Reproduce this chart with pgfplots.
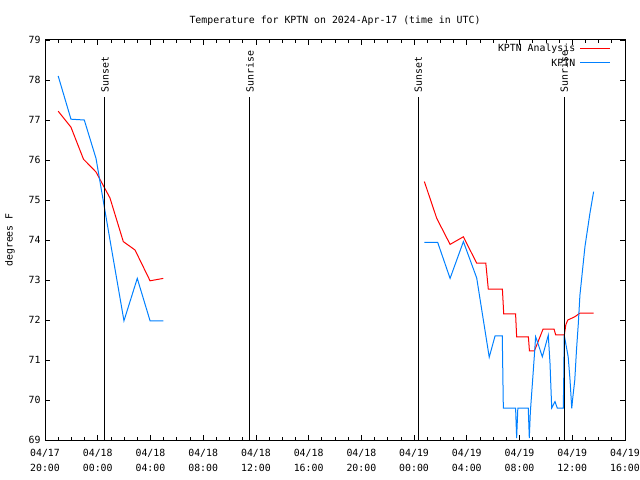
\documentclass[border=0pt]{standalone}
\usepackage{pgfplots}
\pgfplotsset{compat=1.18}
\usepackage{fontspec}
\setmainfont{DejaVu Sans Mono}
\definecolor{gred}{RGB}{255,0,0}
\definecolor{gblue}{RGB}{0,128,255}

\begin{document}
\begin{tikzpicture}[font=\fontsize{9.9}{12}\selectfont]
\path[use as bounding box] (-45bp,-40bp) rectangle (595bp,440bp);
\begin{axis}[
 at={(0,0)}, anchor=south west,
 scale only axis, width=580bp, height=400bp,
 xmin=0, xmax=44, ymin=69, ymax=79,
 xtick={0,4,...,44},
 xticklabels={{04/17\\20:00},{04/18\\00:00},{04/18\\04:00},{04/18\\08:00},{04/18\\12:00},{04/18\\16:00},{04/18\\20:00},{04/19\\00:00},{04/19\\04:00},{04/19\\08:00},{04/19\\12:00},{04/19\\16:00}},
 xticklabel style={align=center, yshift=-6bp, font=\fontsize{9.9}{15}\selectfont},
 minor x tick num=3,
 ytick={69,70,...,79},
 yticklabel style={xshift=-1bp},
 tick align=inside,
 major tick length=5bp, minor tick length=3bp,
 every tick/.style={black, line width=0.8bp},
 axis line style={line width=1bp},
 /pgf/number format/assume math mode=true,
 unbounded coords=jump,
 title={Temperature for KPTN on 2024-Apr-17 (time in UTC)},
 title style={at={(axis description cs:0.5,1)}, anchor=base, yshift=11bp, font=\fontsize{9.9}{12}\selectfont},
 every axis y label/.style={at={(axis description cs:0,0.5)}, xshift=-35bp, rotate=90, anchor=center},
 ylabel={degrees F},
 legend style={draw=none, fill=none, at={(rel axis cs:0.98,0.997)}, anchor=north east, legend cell align=right, row sep=2bp, inner sep=1bp},
 legend plot pos=none,
 legend image code/.code={},
]
\addplot[color=gred, line width=1bp] table {
x y
1.00 77.22
1.97 76.82
2.92 76.02
3.87 75.70
4.93 75.05
5.94 73.96
6.83 73.75
7.97 72.98
8.97 73.04
20 nan
28.78 75.46
29.72 74.54
30.73 73.89
31.74 74.08
32.75 73.42
33.44 73.42
33.63 72.77
34.70 72.77
34.80 72.15
35.70 72.15
35.78 71.58
36.67 71.58
36.75 71.23
37.13 71.23
37.78 71.77
38.62 71.77
38.74 71.63
39.40 71.63
39.51 71.88
39.66 72.00
40.19 72.08
40.57 72.17
41.62 72.17
};
\addlegendentry{KPTN Analysis\hspace{5bp}\textcolor{gred}{\rule[0.33em]{30bp}{1bp}}}
\addplot[color=gblue, line width=1bp] table {
x y
1.00 78.10
1.97 77.02
2.98 77.00
3.87 76.04
4.93 74.00
5.99 71.98
7.00 73.04
7.97 71.98
8.98 71.98
20 nan
28.78 73.94
29.79 73.94
30.73 73.04
31.74 73.96
32.75 73.05
33.70 71.07
34.14 71.60
34.69 71.60
34.77 69.80
35.70 69.80
35.78 69.05
35.87 69.80
36.66 69.80
36.74 69.05
36.82 69.70
37.10 71.00
37.22 71.58
37.35 71.46
37.73 71.08
38.18 71.62
38.31 70.92
38.44 69.80
38.69 69.96
38.86 69.80
39.32 69.80
39.36 70.71
39.39 71.62
39.69 71.08
39.83 70.50
39.96 69.79
40.02 70.00
40.19 70.50
40.32 71.25
40.46 71.92
40.58 72.62
40.96 73.83
41.34 74.67
41.62 75.21
};
\addlegendentry{KPTN\hspace{5bp}\textcolor{gblue}{\rule[0.33em]{30bp}{1bp}}}
\addplot[black, line width=1bp, forget plot] coordinates {(4.55,69) (4.55,77.58)};
\addplot[black, line width=1bp, forget plot] coordinates {(15.55,69) (15.55,77.58)};
\addplot[black, line width=1bp, forget plot] coordinates {(28.32,69) (28.32,77.58)};
\addplot[black, line width=1bp, forget plot] coordinates {(39.39,69) (39.39,77.58)};
\node[rotate=90, anchor=west, inner sep=1bp] at (axis cs:4.55,77.66) {Sunset};
\node[rotate=90, anchor=west, inner sep=1bp] at (axis cs:15.55,77.66) {Sunrise};
\node[rotate=90, anchor=west, inner sep=1bp] at (axis cs:28.32,77.66) {Sunset};
\node[rotate=90, anchor=west, inner sep=1bp] at (axis cs:39.39,77.66) {Sunrise};
\end{axis}
\end{tikzpicture}
\end{document}
